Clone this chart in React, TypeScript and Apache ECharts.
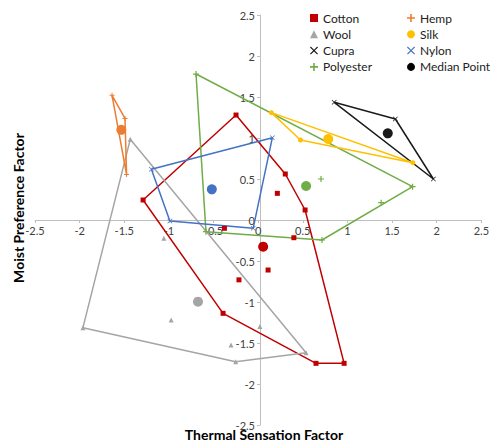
import React, { useEffect, useRef } from "react";
import * as echarts from "echarts";

type P = [number, number];

const fabrics = ["Cotton", "Wool", "Cupra", "Polyester", "Hemp", "Silk", "Nylon"];

const colors: Record<string, string> = {
  Cotton: "#C00000",
  Wool: "#A5A5A5",
  Cupra: "#1A1A1A",
  Polyester: "#70AD47",
  Hemp: "#ED7D31",
  Silk: "#FFC000",
  Nylon: "#4472C4",
};

// hull vertices (drawn as closed outline)
const cottonHull: P[] = [[-0.248, 1.28], [-1.289, 0.244], [-0.393, -1.138], [0.648, -1.748], [0.963, -1.748], [0.526, 0.122], [0.304, 0.561]];
const cottonInner: P[] = [[0.215, 0.325], [-0.378, -0.101], [0.4, -0.216], [-0.215, -0.73], [0.111, -0.61]];
const woolHull: P[] = [[-1.433, 0.984], [-1.963, -1.313], [-0.252, -1.728], [0.537, -1.618]];
const woolInner: P[] = [[-1.056, -0.224], [-0.974, -1.22], [-0.304, -1.524], [0.019, -1.3]];
const cupraHull: P[] = [[0.852, 1.435], [1.537, 1.232], [1.963, 0.5]];
const cupraInner: P[] = [];
const polyHull: P[] = [[-0.696, 1.78], [-0.585, -0.142], [0.715, -0.244], [1.73, 0.406]];
const polyInner: P[] = [[0.704, 0.5], [1.378, 0.211]];
const hempHull: P[] = [[-1.637, 1.52], [-1.492, 1.238], [-1.474, 0.555]];
const hempInner: P[] = [];
const silkHull: P[] = [[0.148, 1.309], [0.474, 0.976], [1.733, 0.699]];
const silkInner: P[] = [];
const nylonHull: P[] = [[-1.196, 0.618], [0.159, 1.004], [-0.056, -0.101], [-0.989, -0.012]];
const nylonInner: P[] = [];

const medians: Record<string, P> = {
  Cotton: [0.056, -0.325],
  Wool: [-0.674, -0.996],
  Cupra: [1.452, 1.057],
  Polyester: [0.537, 0.415],
  Hemp: [-1.533, 1.1],
  Silk: [0.785, 0.988],
  Nylon: [-0.519, 0.374],
};

const hulls: Record<string, P[]> = {
  Cotton: cottonHull, Wool: woolHull, Cupra: cupraHull, Polyester: polyHull,
  Hemp: hempHull, Silk: silkHull, Nylon: nylonHull,
};
const inners: Record<string, P[]> = {
  Cotton: cottonInner, Wool: woolInner, Cupra: cupraInner, Polyester: polyInner,
  Hemp: hempInner, Silk: silkInner, Nylon: nylonInner,
};

const X_PATH = "path://M1,0L5,4L9,0L10,1L6,5L10,9L9,10L5,6L1,10L0,9L4,5L0,1Z";
const PLUS_PATH = "path://M4,0H6V4H10V6H6V10H4V6H0V4H4Z";

const symbols: Record<string, { s: string; size: number }> = {
  Cotton: { s: "rect", size: 5 },
  Wool: { s: "triangle", size: 5 },
  Cupra: { s: X_PATH, size: 5 },
  Polyester: { s: PLUS_PATH, size: 6 },
  Hemp: { s: PLUS_PATH, size: 5 },
  Silk: { s: "circle", size: 5 },
  Nylon: { s: X_PATH, size: 5 },
};

const FONT = "Lato, 'Open Sans', sans-serif";

export default function App() {
  const ref = useRef<HTMLDivElement>(null);
  useEffect(() => {
    if (!ref.current) return;
    const chart = echarts.init(ref.current, undefined, { renderer: "svg" });
    const series: any[] = [];
    fabrics.forEach((f) => {
      const hull = hulls[f];
      series.push({
        name: f + " hull",
        type: "line",
        data: [...hull, hull[0]],
        showSymbol: false,
        lineStyle: { color: colors[f], width: 1.5 },
        itemStyle: { color: colors[f] },
        z: 2,
        silent: true,
      });
      series.push({
        name: f,
        type: "scatter",
        data: [...hull, ...inners[f]],
        symbol: symbols[f].s,
        symbolSize: symbols[f].size,
        itemStyle: { color: colors[f], opacity: 1 },
        z: 3,
      });
    });
    series.push({
      name: "Median Point",
      type: "scatter",
      symbol: "circle",
      symbolSize: 10,
      itemStyle: { color: "#000000", opacity: 1 },
      data: fabrics.map((f) => ({ value: medians[f], itemStyle: { color: colors[f] } })),
      z: 4,
    });

    const legendCommon = {
      orient: "vertical" as const,
      itemWidth: 8,
      itemHeight: 8,
      itemGap: 4.3,
      textStyle: { fontSize: 12, color: "#222", fontFamily: FONT },
      selectedMode: false,
    };

    chart.setOption({
      animation: false,
      grid: { left: 35, right: 7, top: 15, bottom: 16 },
      xAxis: {
        type: "value",
        min: -2.5,
        max: 2.5,
        interval: 0.5,
        offset: -205,
        axisLine: { onZero: false, lineStyle: { color: "#BFBFBF", width: 1 } },
        axisTick: { show: true, length: 3, lineStyle: { color: "#BFBFBF" } },
        splitLine: { show: false },
        axisLabel: { color: "#404040", fontSize: 11, fontFamily: FONT, margin: 5 },
      },
      yAxis: {
        type: "value",
        min: -2.5,
        max: 2.5,
        interval: 0.5,
        offset: -225,
        axisLine: { onZero: false, lineStyle: { color: "#BFBFBF", width: 1 } },
        axisTick: { show: true, length: 3, lineStyle: { color: "#BFBFBF" } },
        splitLine: { show: false },
        axisLabel: { color: "#404040", fontSize: 11, fontFamily: FONT, margin: 5 },
      },
      legend: [
        { ...legendCommon, left: 305, top: 7, data: ["Cotton", "Wool", "Cupra", "Polyester"] },
        { ...legendCommon, left: 402, top: 7, data: ["Hemp", "Silk", "Nylon", "Median Point"] },
      ],
      graphic: [
        {
          type: "text",
          x: 18,
          y: 208,
          rotation: Math.PI / 2,
          style: {
            text: "Moist Preference Factor",
            fontSize: 14,
            fontWeight: "bold",
            fontFamily: FONT,
            fill: "#000",
            textAlign: "center",
            textVerticalAlign: "middle",
          },
        },
        {
          type: "text",
          x: 264,
          y: 434,
          style: {
            text: "Thermal Sensation Factor",
            fontSize: 14,
            fontWeight: "bold",
            fontFamily: FONT,
            fill: "#000",
            textAlign: "center",
            textVerticalAlign: "middle",
          },
        },
      ],
      series,
    });
    return () => chart.dispose();
  }, []);
  return (
    <div
      ref={ref}
      style={{ position: "fixed", left: 0, top: 0, width: 492, height: 441, background: "#fff" }}
    />
  );
}
